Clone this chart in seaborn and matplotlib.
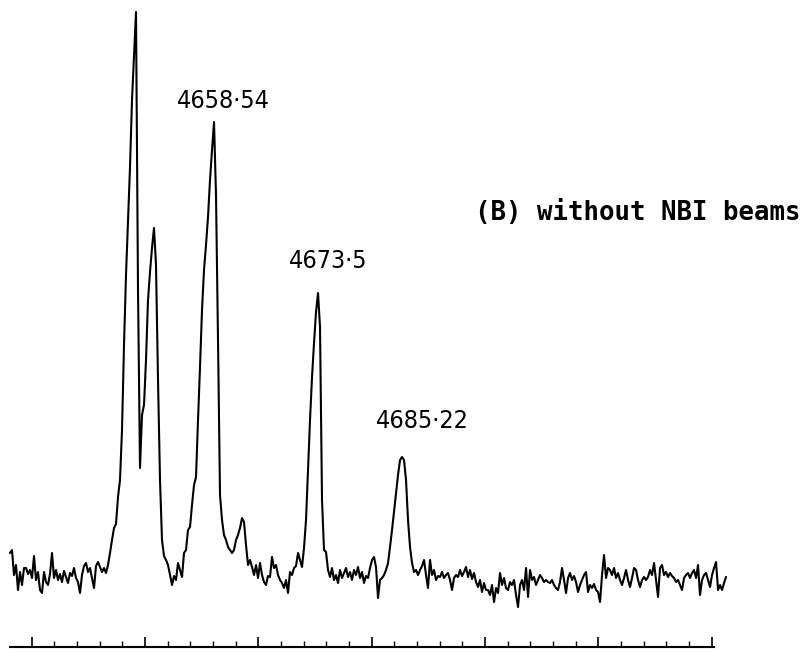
import numpy as np
import pandas as pd
import matplotlib
matplotlib.use("Agg")
import matplotlib.pyplot as plt
from matplotlib.ticker import FixedLocator
import seaborn as sns

# Evenly sampled scan: first wavelength (Å), sample spacing (Å), recorded counts
wl_start = 4629.74
wl_step = 0.2824
counts = [
    87, 90, 65, 75, 50, 68, 55, 72, 72, 66,
    70, 62, 84, 60, 68, 50, 47, 68, 58, 55,
    66, 87, 62, 70, 60, 66, 58, 69, 63, 57,
    67, 64, 72, 62, 58, 47, 65, 74, 77, 68,
    72, 62, 52, 74, 78, 73, 68, 72, 67, 75,
    87, 100, 112, 116, 143, 160, 210, 295, 365, 420,
    473, 540, 585, 628, 350, 172, 225, 235, 280, 340,
    368, 392, 412, 375, 260, 160, 100, 84, 80, 75,
    65, 55, 64, 60, 77, 70, 63, 87, 90, 110,
    113, 135, 155, 163, 220, 273, 330, 370, 395, 423,
    460, 490, 518, 445, 300, 145, 120, 105, 100, 93,
    90, 87, 90, 100, 105, 112, 122, 118, 95, 75,
    80, 73, 65, 75, 62, 77, 65, 58, 55, 64,
    63, 83, 72, 75, 65, 60, 57, 52, 60, 47,
    68, 65, 72, 74, 87, 80, 73, 92, 120, 170,
    220, 263, 297, 328, 347, 313, 140, 90, 88, 70,
    63, 72, 60, 65, 57, 70, 62, 67, 72, 63,
    68, 60, 70, 65, 73, 62, 68, 57, 64, 62,
    72, 80, 83, 73, 42, 60, 62, 65, 70, 77,
    93, 110, 128, 145, 165, 180, 183, 180, 160, 120,
    93, 77, 68, 70, 65, 70, 74, 80, 65, 52,
    80, 65, 70, 60, 64, 63, 68, 62, 65, 67,
    60, 50, 62, 65, 63, 70, 64, 68, 73, 63,
    70, 61, 67, 58, 53, 60, 48, 57, 50, 50,
    45, 55, 38, 52, 47, 67, 55, 62, 52, 50,
    58, 55, 60, 45, 33, 55, 60, 50, 72, 43,
    70, 60, 63, 55, 60, 65, 62, 58, 60, 58,
    57, 60, 55, 52, 50, 58, 72, 60, 47, 62,
    67, 60, 64, 58, 48, 55, 60, 65, 68, 48,
    55, 52, 56, 50, 48, 38, 65, 85, 62, 72,
    70, 65, 72, 62, 67, 60, 55, 62, 70, 60,
    53, 62, 72, 70, 60, 53, 60, 63, 60, 63,
    70, 65, 77, 60, 43, 72, 75, 65, 68, 63,
    67, 64, 62, 58, 60, 55, 50, 62, 65, 67,
    62, 67, 70, 62, 75, 45, 60, 65, 67, 60,
    53, 65, 72, 78, 50, 55, 50, 57, 63,
]

# Identified lines (Å) and their printed labels
line_wavelengths = [4658.54, 4673.5, 4685.22]
line_labels = ["4658·54", "4673·5", "4685·22"]
panel_title = "(B) without NBI beams"

# Wavelength scale bar: major divisions every 16 Å, five minor divisions each
scale_start = 4632.8
scale_major_step = 16.0
scale_n_major = 7
scale_minor_per_major = 5

wavelength = wl_start + wl_step * np.arange(len(counts))
df = pd.DataFrame({"wavelength": wavelength, "counts": counts})

sns.set_style("white")

W, H = 805, 654
fig = plt.figure(figsize=(W / 100, H / 100), dpi=100)
ax = fig.add_axes([10 / W, 7 / H, 704 / W, 647 / H])

sns.lineplot(data=df, x="wavelength", y="counts", ax=ax, color="black",
             linewidth=1.5, estimator=None, sort=False)
for ln in ax.lines:
    ln.set_clip_on(False)

ax.set_xlim(4629.74, 4729.14)
ax.set_ylim(-7, 640)
ax.set_xlabel("")
ax.set_ylabel("")

major = [scale_start + scale_major_step * k for k in range(scale_n_major)]
minor_step = scale_major_step / scale_minor_per_major
minor = [scale_start + minor_step * j
         for j in range((scale_n_major - 1) * scale_minor_per_major + 1)]
ax.xaxis.set_major_locator(FixedLocator(major))
ax.xaxis.set_minor_locator(FixedLocator(minor))
ax.tick_params(axis="x", which="major", direction="in", length=7, width=1.2,
               color="black", bottom=True, labelbottom=False)
ax.tick_params(axis="x", which="minor", direction="in", length=4.3, width=1.0,
               color="black", bottom=True)
ax.tick_params(axis="y", left=False, labelleft=False)
for side in ("left", "top", "right"):
    ax.spines[side].set_visible(False)
ax.spines["bottom"].set_color("black")
ax.spines["bottom"].set_linewidth(1.5)

# Line labels above each peak
label_offsets = [(6.5, 10), (6.2, 18), (14.1, 21)]
wl_arr = np.asarray(wavelength)
cnt_arr = np.asarray(counts)
for lam, text, (dx, dy) in zip(line_wavelengths, line_labels, label_offsets):
    near = np.abs(wl_arr - lam) < 1.0
    peak = cnt_arr[near].max()
    ax.annotate(text, xy=(lam, peak), xytext=(dx, dy), textcoords="offset points",
                ha="center", va="baseline", fontsize=18,
                family="DejaVu Sans", fontstretch="condensed", color="black",
                annotation_clip=False)

fig.text(475 / W, 1 - 220 / H, panel_title, ha="left", va="baseline",
         family="DejaVu Sans Mono", fontweight="bold", fontsize=18.5,
         color="black")

fig.savefig("out.png", dpi=100, facecolor="white")
